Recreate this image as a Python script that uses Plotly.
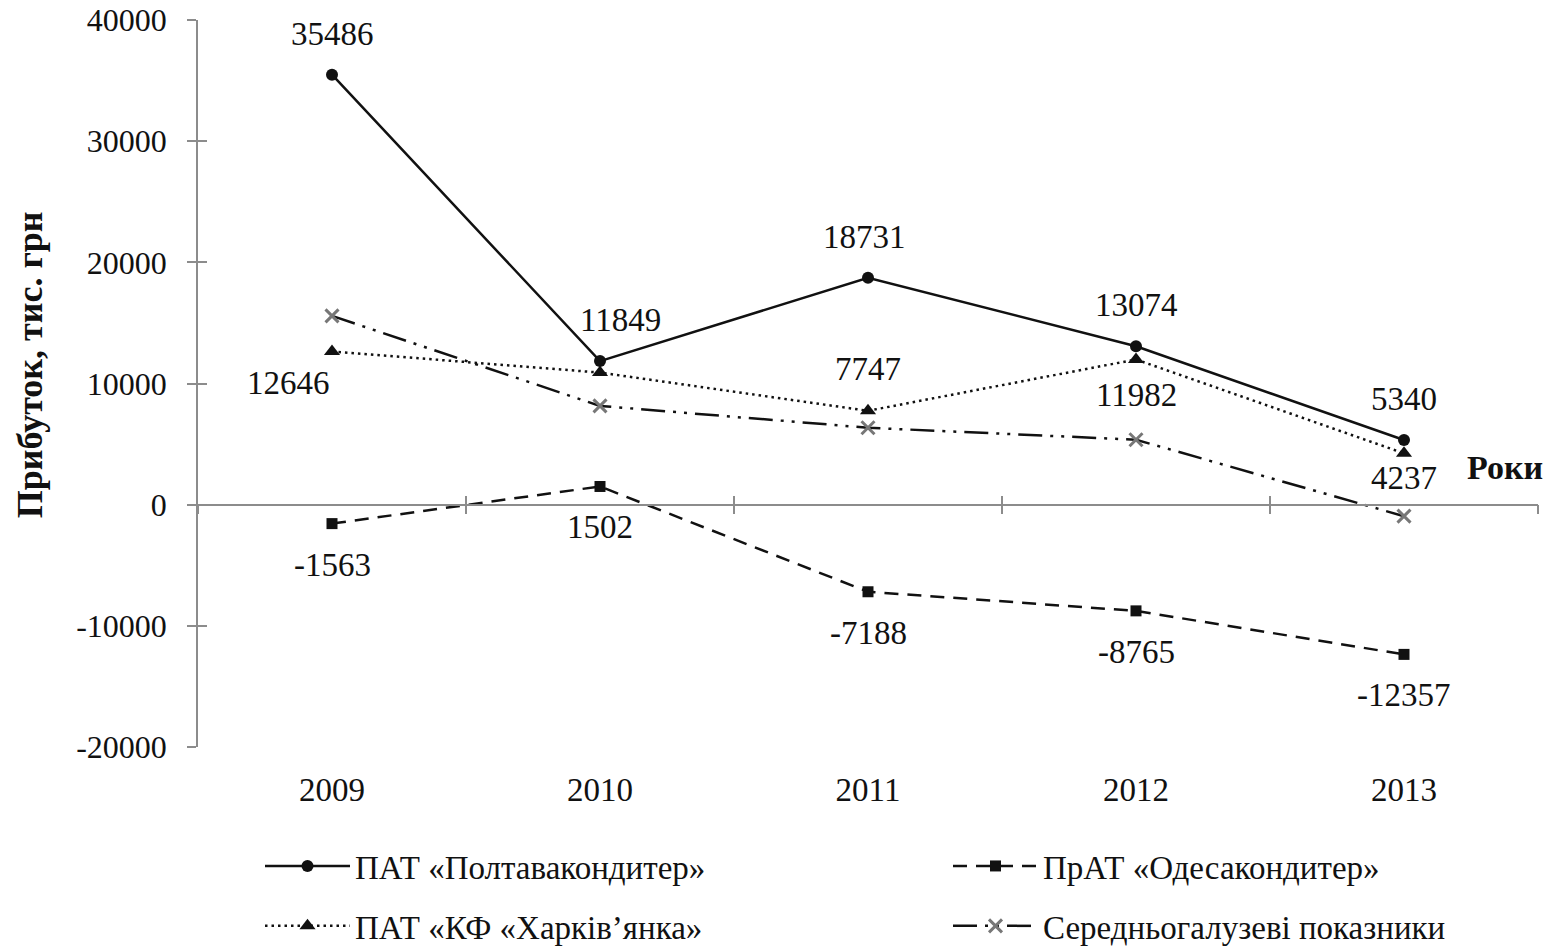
import plotly.graph_objects as go

years = ["2009", "2010", "2011", "2012", "2013"]
poltava = [35486, 11849, 18731, 13074, 5340]
odesa = [-1563, 1502, -7188, -8765, -12357]
kharkiv = [12646, 10900, 7747, 11982, 4237]
average = [15580, 8150, 6350, 5360, -950]

poltava_labels = ["35486", "11849", "18731", "13074", "5340"]
odesa_labels = ["-1563", "1502", "-7188", "-8765", "-12357"]
kharkiv_labels = ["12646", "", "7747", "11982", "4237"]

y_ticks = [-20000, -10000, 0, 10000, 20000, 30000, 40000]
y_tick_labels = ["-20000", "-10000", "0", "10000", "20000", "30000", "40000"]
y_range = [-20000, 40000]

names = ["ПАТ «Полтавакондитер»", "ПрАТ «Одесакондитер»",
         "ПАТ «КФ «Харків’янка»", "Середньогалузеві показники"]

FONT = "Liberation Serif, Times New Roman, serif"
GRAY = "#8c8c8c"
INK = "#111"

# label offsets in pixels (style only)
poltava_off = [(0, 41), (20, 41), (-4, 41), (0, 41), (0, 41)]
odesa_off = [(0, -41)] * 5
kharkiv_off = [(-44, -32), (0, 0), (0, 42), (0, -36), (0, -25)]

fig = go.Figure()

fig.add_trace(go.Scatter(
    x=years, y=poltava, name=names[0], mode="lines+markers",
    line=dict(color=INK, width=2.5),
    marker=dict(symbol="circle", size=12, color=INK),
    legend="legend", legendgroup="a"))

fig.add_trace(go.Scatter(
    x=years, y=odesa, name=names[1], mode="lines+markers",
    line=dict(color=INK, width=2.5, dash="14px,9px"),
    marker=dict(symbol="square", size=11, color=INK),
    legend="legend2", legendgroup="b"))

fig.add_trace(go.Scatter(
    x=years, y=kharkiv, name=names[2], mode="lines+markers",
    line=dict(color=INK, width=2.5, dash="2.5px,4px"),
    marker=dict(symbol="triangle-up", size=14, color=INK),
    legend="legend", legendgroup="c"))

fig.add_trace(go.Scatter(
    x=years, y=average, name=names[3], mode="lines+markers",
    line=dict(color=INK, width=2.5, dash="24px,8px,3px,8px,3px,8px"),
    marker=dict(symbol="x-thin", size=13, color="#777", line=dict(color="#777", width=3)),
    legend="legend2", legendgroup="d"))

annotations = []
for vals, labels, offs in [(poltava, poltava_labels, poltava_off),
                           (odesa, odesa_labels, odesa_off),
                           (kharkiv, kharkiv_labels, kharkiv_off)]:
    for idx, (yv, lab, (dx, dy)) in enumerate(zip(vals, labels, offs)):
        if not lab:
            continue
        annotations.append(dict(
            x=idx, y=yv, xref="x2", yref="y", text=lab, showarrow=False,
            xshift=dx, yshift=dy, xanchor="center", yanchor="middle",
            font=dict(family=FONT, size=33, color=INK)))

annotations += [
    dict(text="<b>Роки</b>", xref="paper", yref="y", x=1.005, y=3100,
         xanchor="right", yanchor="middle", showarrow=False,
         font=dict(family=FONT, size=34, color=INK)),
    dict(text="<b>Прибуток, тис. грн</b>", xref="paper", yref="paper",
         x=(22 - 190) / 1340, y=(739 - 357) / 727.5, xanchor="center", yanchor="middle",
         textangle=-90, showarrow=False, font=dict(family=FONT, size=36, color=INK)),
]

n = len(years)
bounds = [i - 0.5 for i in range(n + 1)]
zero_pos = (0 - y_range[0]) / (y_range[1] - y_range[0])

fig.update_layout(
    width=1556, height=950,
    margin=dict(l=190, r=26, t=12, b=211, autoexpand=False),
    paper_bgcolor="white", plot_bgcolor="white",
    font=dict(family=FONT, size=32, color=INK),
    showlegend=True,
    xaxis=dict(type="category", range=[-0.5, n - 0.5], showline=False, showgrid=False,
               zeroline=False, ticks="", tickfont=dict(family=FONT, size=33, color=INK),
               ticklabelstandoff=20, automargin=False),
    xaxis2=dict(overlaying="x", anchor="free", position=zero_pos, range=[-0.5, n - 0.5],
                tickvals=bounds, showticklabels=False, ticks="outside", ticklen=9,
                tickcolor=GRAY, tickwidth=1.5, showline=True, linecolor=GRAY, linewidth=1.5,
                showgrid=False, zeroline=False),
    xaxis3=dict(overlaying="x", anchor="free", position=zero_pos, range=[-0.5, n - 0.5],
                tickvals=bounds, showticklabels=False, ticks="inside", ticklen=9,
                tickcolor=GRAY, tickwidth=1.5, showline=False, showgrid=False, zeroline=False),
    yaxis=dict(range=y_range, tickvals=y_ticks, ticktext=y_tick_labels, showgrid=False,
               zeroline=False, showline=True, linecolor=GRAY, linewidth=1.5, ticks="outside",
               ticklen=9, tickcolor=GRAY, tickwidth=1.5, ticklabeloverflow="allow",
               tickfont=dict(family=FONT, size=32, color=INK),
               ticklabelstandoff=14, automargin=False),
    yaxis2=dict(overlaying="y", range=y_range, tickvals=y_ticks, showticklabels=False,
                ticks="inside", ticklen=9, tickcolor=GRAY, tickwidth=1.5, showgrid=False,
                zeroline=False, showline=False, side="left"),
    legend=dict(xref="container", yref="container", x=252 / 1556, y=1 - 830 / 950,
                xanchor="left", yanchor="top", orientation="v", itemwidth=85,
                tracegroupgap=14, font=dict(family=FONT, size=33, color=INK),
                bgcolor="rgba(0,0,0,0)"),
    legend2=dict(xref="container", yref="container", x=940 / 1556, y=1 - 830 / 950,
                 xanchor="left", yanchor="top", orientation="v", itemwidth=85,
                 tracegroupgap=14, font=dict(family=FONT, size=33, color=INK),
                 bgcolor="rgba(0,0,0,0)"),
    annotations=annotations,
)

# dummy traces to activate overlay axes
fig.add_trace(go.Scatter(x=[None], y=[None], xaxis="x2", yaxis="y", showlegend=False, hoverinfo="skip"))
fig.add_trace(go.Scatter(x=[None], y=[None], xaxis="x3", yaxis="y2", showlegend=False, hoverinfo="skip"))

fig.write_html("out.html")
